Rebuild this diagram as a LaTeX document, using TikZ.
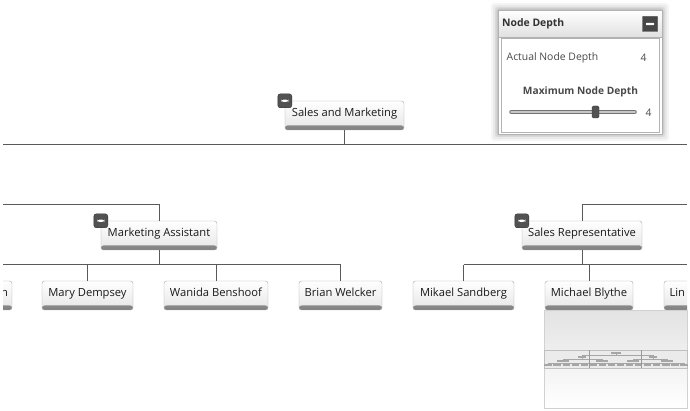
\documentclass[tikz,border=0pt]{standalone}
\usepackage{fontspec}
\setmainfont{Open Sans}
\usetikzlibrary{positioning}
\definecolor{linegray}{HTML}{5A5A5A}
\definecolor{textgray}{HTML}{4A4A4A}
\definecolor{viewblue}{HTML}{5AAFCB}
\tikzset{
  conn/.style={draw=linegray, line width=1pt},
  orgbox/.style={draw=black!35, rounded corners=2.5pt, minimum height=29pt,
    inner xsep=0pt, inner ysep=0pt, top color=white, bottom color=black!10,
    font=\fontsize{11.2}{13}\selectfont, text=black!90, text height=8.5pt, text depth=5.5pt,
    path picture={\shade[top color=black!25, bottom color=black!50]
      (path picture bounding box.south west) rectangle
      ([yshift=4.5pt]path picture bounding box.south east);}},
  minusbtn/.style={fill=black!68, draw=black!78, rounded corners=2.5pt,
    minimum size=14pt, inner sep=0pt,
    path picture={\fill[white] ([xshift=3.5pt,yshift=-1.2pt]path picture bounding box.west)
      rectangle ([xshift=-3.5pt,yshift=1.2pt]path picture bounding box.east);}},
  paneltext/.style={font=\fontsize{10.4}{12}\selectfont, text=textgray, inner sep=0pt},
}
\begin{document}
\begin{tikzpicture}[x=1pt,y=-1pt]
    \useasboundingbox (0,0) rectangle (690,411);

    \begin{scope}
    \clip (3,0) rectangle (687,411);
    % Nodi
    \node[orgbox, minimum width=119pt] (sm) at (344.5,115.5) {Sales and Marketing};
    \node[orgbox, minimum width=116pt] (ma) at (159,235.5) {Marketing Assistant};
    \node[orgbox, minimum width=120pt] (sr) at (582,235.5) {Sales Representative};

    \node[orgbox, minimum width=92pt, text width=84pt, align=right] (ln) at (-34,295.5) {n};
    \node[orgbox, minimum width=91pt] (md) at (87.5,295.5) {Mary Dempsey};
    \node[orgbox, minimum width=104pt] (wb) at (216,295.5) {Wanida Benshoof};
    \node[orgbox, minimum width=83pt] (bw) at (340.5,295.5) {Brian Welcker};
    \node[orgbox, minimum width=101pt] (ms) at (463.5,295.5) {Mikael Sandberg};
    \node[orgbox, minimum width=88pt] (mb) at (589,295.5) {Michael Blythe};
    \node[orgbox, minimum width=96pt, text width=85pt, align=left] (li) at (712,295.5) {Lin};

    % Bottoni
    \node[minusbtn] (smbtn) at (sm.north west) {};
    \node[minusbtn] (mabtn) at (ma.north west) {};
    \node[minusbtn] (srbtn) at (sr.north west) {};

    % Connettori
    \coordinate (busA) at (3,145);
    \coordinate (busB) at (687,145);
    \draw[conn] (busA) -- (busB);
    \draw[conn] (sm.south) -- (sm.south |- busA);

    \coordinate (maTop) at (3,205);
    \coordinate (srTop) at (687,205);
    \draw[conn] (ma.north) |- (maTop);
    \draw[conn] (sr.north) |- (srTop);

    \coordinate (maBus) at (3,265);
    \coordinate (srBus) at (687,265);
    \draw[conn] (ma.south) -- (ma.south |- maBus);
    \draw[conn] (maBus) -- (maBus -| bw.north);
    \foreach \n in {md,wb,bw}
      \draw[conn] (\n.north) -- (\n.north |- maBus);
    \draw[conn] (sr.south) -- (sr.south |- srBus);
    \draw[conn] (srBus -| ms.north) -- (srBus);
    \foreach \n in {ms,mb}
      \draw[conn] (\n.north) -- (\n.north |- srBus);
    \end{scope}

    % Pannello Node Depth
    \foreach \s/\o in {7/0.04,5/0.05,3/0.07,1.5/0.09}
      \fill[black, opacity=\o, rounded corners=3pt] (498-\s,10-\s) rectangle (662+\s,134+\s);
    \node[draw=black!30, fill=white, minimum width=164pt, minimum height=124pt,
          inner sep=0pt, anchor=north west] (panel) at (498,10) {};
    \node[draw=black!30, top color=white, bottom color=black!12, minimum width=164pt,
          minimum height=27pt, inner sep=0pt, anchor=north west] (head) at (498,10) {};
    \node[font=\bfseries\fontsize{10.4}{12}\selectfont, text=black!80, anchor=west, inner sep=0pt]
          (headtxt) at (502,23.5) {Node Depth};
    \node[minusbtn, fill=black!72, rounded corners=0.5pt, minimum size=15pt] (headbtn) at (650,24) {};
    \node[draw=black!30, minimum width=158pt, minimum height=94pt, inner sep=0pt,
          anchor=north west] (inner) at (501,38.5) {};

    \node[paneltext, anchor=west] (actual) at (506.5,57.5) {Actual Node Depth};
    \node[paneltext] (actualval) at (643.5,57.5) {4};
    \node[paneltext, font=\bfseries\fontsize{10.2}{12}\selectfont] (maxlbl) at (580.5,92) {Maximum Node Depth};

    % Slider
    \coordinate (trackA) at (511,112);
    \coordinate (trackB) at (635,112);
    \draw[black!55, line width=3.5pt, line cap=round] (trackA) -- (trackB);
    \draw[black!22, line width=1.5pt, line cap=round] (trackA) -- (trackB);
    \node[fill=black!68, draw=black!80, rounded corners=1.5pt, minimum width=7pt,
          minimum height=12pt, inner sep=0pt] (thumb) at (595.5,112) {};
    \node[paneltext] (maxval) at (648.5,112.5) {4};

    % Panoramica
    \node[draw=black!18, top color=black!11, bottom color=white, minimum width=143pt,
          minimum height=98pt, inner sep=0pt, anchor=north west] (overview) at (544,310) {};
    \node[draw=black!25, fill=black!8, minimum width=143pt, minimum height=18pt,
          inner sep=0pt, anchor=north west] (mini) at (544,350) {};
    \begin{scope}[black!35, line width=0.4pt]
      \draw (582,357) -- (582,355) -- (653,355) -- (653,357);
      \draw (616,353) -- (616,355);
      \draw (563,361) -- (563,359) -- (602,359) -- (602,361);
      \draw (633,361) -- (633,359) -- (667,359) -- (667,361);
      \draw (582,357) -- (582,359);
      \draw (653,357) -- (653,359);
      \draw (548,365) -- (548,363) -- (684,363) -- (684,365);
      \fill (611,352.3) rectangle (621,354);
      \foreach \x in {582,653}
        \fill (\x-4,356.3) rectangle (\x+4,358);
      \foreach \x in {563,602,633,667}
        \fill (\x-6,360.3) rectangle (\x+6,362);
      \foreach \i in {0,...,15}
        \fill (548+\i*9.07-3.6,364.3) rectangle (548+\i*9.07+3.6,366);
    \end{scope}
    \draw[viewblue, line width=0.9pt] (589,350) -- (589,368);
    \draw[viewblue, line width=0.9pt] (641,350) -- (641,368);
\end{tikzpicture}
\end{document}
